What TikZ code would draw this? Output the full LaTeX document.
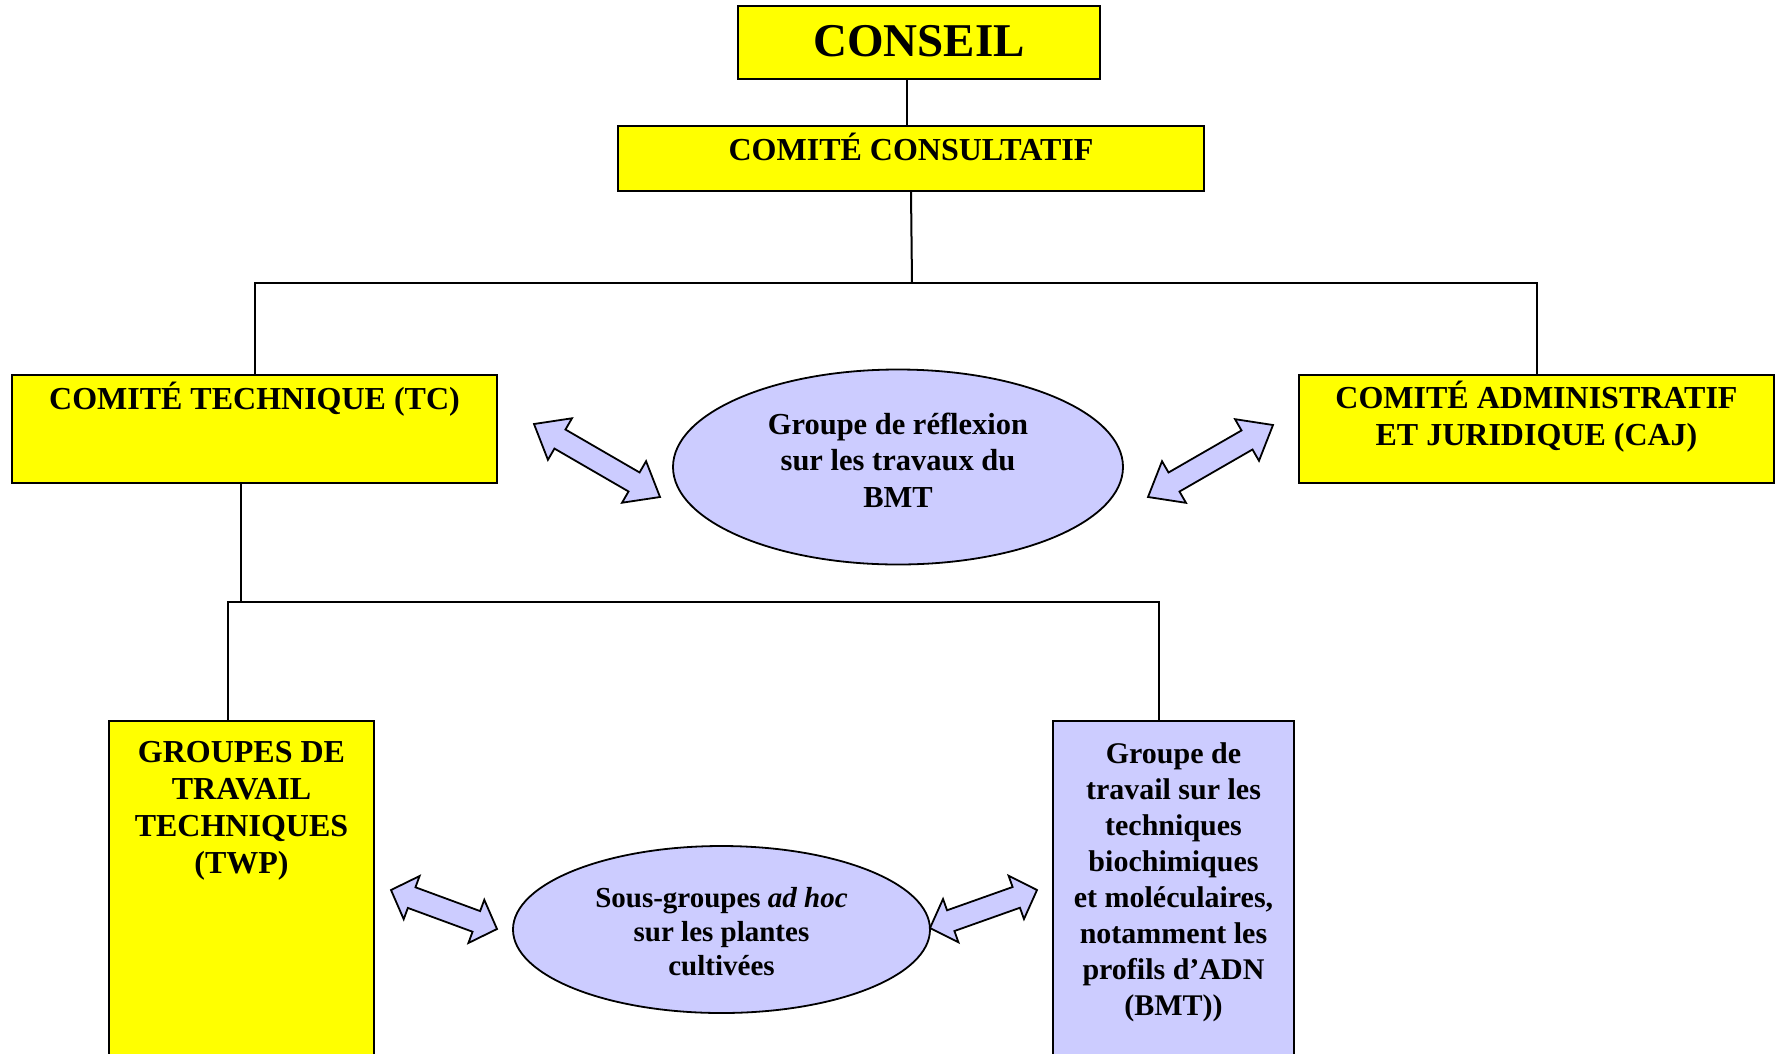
\documentclass[tikz,border=0pt]{standalone}
\usepackage{fontspec}
\setmainfont{Liberation Serif}
\usetikzlibrary{calc,shapes.geometric}
\definecolor{boxyellow}{HTML}{FFFF00}
\definecolor{lav}{HTML}{CCCCFF}
\newcommand\tb[4]{\vbox to #2{\hsize=#1\relax\centering\leavevmode\rule{0pt}{#3}#4\par\vfil}}
\newcommand\dblarrow[5]{%
  \path ($(#1)!#3!(#2)$) coordinate (h1) ($(#2)!#3!(#1)$) coordinate (h2);
  \draw[arrowsty] (#1) -- ($(h1)!#4!90:(#2)$) -- ($(h1)!#5!90:(#2)$) -- ($(h2)!#5!90:(#2)$) -- ($(h2)!#4!90:(#2)$) -- (#2)
    -- ($(h2)!#4!-90:(#2)$) -- ($(h2)!#5!-90:(#2)$) -- ($(h1)!#5!-90:(#2)$) -- ($(h1)!#4!-90:(#2)$) -- cycle;}
\tikzset{
  ybox/.style={draw=black, line width=1.8pt, fill=boxyellow, inner sep=0pt, font=\bfseries\fontsize{32}{37}\selectfont},
  lbox/.style={draw=black, line width=1.8pt, fill=lav, inner sep=0pt, font=\bfseries\fontsize{30}{36}\selectfont},
  ell/.style={ellipse, draw=black, line width=1.8pt, fill=lav, inner sep=0pt},
  arrowsty/.style={draw=black, fill=lav, line width=1.8pt, line join=miter},
  conn/.style={draw=black, line width=2pt}
}
\begin{document}
\begin{tikzpicture}[x=1pt,y=-1pt]
\useasboundingbox (0,0) rectangle (1782,1053);
\clip (0,0) rectangle (1782,1053);
\fill[white] (0,0) rectangle (1782,1053);

\coordinate (j1) at (912,283);
\coordinate (j2) at (241,602);

\node[ybox, font=\bfseries\fontsize{47}{52}\selectfont] (conseil) at (919,42.5) {\tb{362pt}{73pt}{50pt}{CONSEIL}};
\node[ybox] (cc) at (911,158.5) {\tb{586pt}{65pt}{34pt}{COMITÉ CONSULTATIF}};
\node[ybox] (tc) at (254.5,429) {\tb{485pt}{108pt}{34pt}{COMITÉ TECHNIQUE (TC)}};
\node[ybox] (caj) at (1536.5,429) {\tb{475pt}{108pt}{33pt}{COMITÉ ADMINISTRATIF\\ET JURIDIQUE (CAJ)}};
\node[ybox] (twp) at (241.5,893.5) {\tb{265pt}{345pt}{41pt}{GROUPES DE\\TRAVAIL\\TECHNIQUES\\(TWP)}};
\node[lbox] (bmt) at (1173.5,893.5) {\tb{241pt}{345pt}{42pt}{Groupe de\\travail sur les\\techniques\\biochimiques\\et moléculaires,\\notamment les\\profils d’ADN\\(BMT))}};

\node[ell, minimum width=450pt, minimum height=195pt, font=\bfseries\fontsize{30.5}{36.5}\selectfont] (gr) at (898,467)
  {\tb{310pt}{126pt}{30pt}{Groupe de réflexion\\sur les travaux du\\BMT}};
\node[ell, minimum width=417pt, minimum height=167pt, font=\bfseries\fontsize{29}{34}\selectfont] (sg) at (721.5,929.5)
  {\tb{280pt}{105pt}{30pt}{Sous-groupes \textit{ad hoc}\\sur les plantes\\cultivées}};

\draw[conn] ([xshift=-12pt]conseil.south) -- ([xshift=-12pt]conseil.south |- cc.north);
\draw[conn] (cc.south) -- (j1);
\draw[conn] (tc.north) |- (j1);
\draw[conn] (caj.north) |- (j1);
\draw[conn] ([xshift=-13.5pt]tc.south) -- (j2);
\draw[conn] ([xshift=-13.5pt]twp.north) |- (j2);
\draw[conn] ([xshift=-14.5pt]bmt.north) |- (j2);

\coordinate (a1) at (534,424);  \coordinate (b1) at (660,497);
\coordinate (a2) at (1273,425); \coordinate (b2) at (1148,497);
\coordinate (a3) at (391,890);  \coordinate (b3) at (497,929);
\coordinate (a4) at (1037,890); \coordinate (b4) at (930,928);
\dblarrow{a1}{b1}{30pt}{24pt}{11pt}
\dblarrow{a2}{b2}{30pt}{24pt}{11pt}
\dblarrow{a3}{b3}{22pt}{23pt}{11pt}
\dblarrow{a4}{b4}{22pt}{23pt}{11pt}
\end{tikzpicture}
\end{document}
